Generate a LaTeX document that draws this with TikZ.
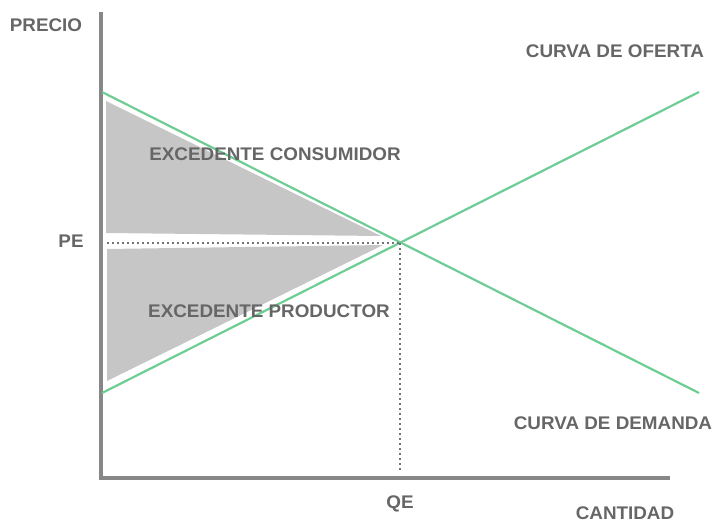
\documentclass[tikz,border=0pt]{standalone}
\usepackage{fontspec}
\setmainfont{Liberation Sans}[FakeStretch=1.03]
\definecolor{curve}{RGB}{110,205,148}
\definecolor{axisgray}{RGB}{135,135,135}
\definecolor{areagray}{RGB}{198,198,198}
\definecolor{labelgray}{RGB}{102,102,102}
\definecolor{dotgray}{RGB}{115,115,115}
\begin{document}
\begin{tikzpicture}[x=1pt,y=-1pt,
  lbl/.style={inner sep=0pt,text=labelgray,font=\fontsize{18.3}{20}\selectfont\bfseries},
  curveline/.style={draw=curve,line width=2.2pt},
  axisline/.style={draw=axisgray,line width=4.5pt},
  area/.style={fill=areagray,draw=none},
  guide/.style={draw=dotgray,line width=2.4pt,dash pattern=on 2pt off 3pt}]
\useasboundingbox (0,0) rectangle (718,524);
% axes
\coordinate (ytop) at (101,12);
\coordinate (origin) at (101,478);
\coordinate (xend) at (670,478);
\draw[axisline,line join=miter] (ytop) -- (origin) -- (xend);
% areas
\fill[area] (106,101) -- (381,236) -- (106,233) -- cycle;
\fill[area] (107,249) -- (383,245) -- (107,381) -- cycle;
% curves
\coordinate (d0) at (102,92);
\coordinate (d1) at (699,393);
\coordinate (s0) at (102,393);
\coordinate (s1) at (699,92);
\coordinate (eq) at (400,243);
\draw[curveline] (d0) -- (d1);
\draw[curveline] (s0) -- (s1);
% guides
\coordinate (pe) at (107,243);
\coordinate (qe) at (400,470);
\draw[guide] (pe) -- (eq);
\draw[guide] (eq) -- (qe);
% labels
\node[lbl] (precio) at (46,25) {PRECIO};
\node[lbl] (oferta) at (615,51) {CURVA DE OFERTA};
\node[lbl] (consumidor) at (275,154) {EXCEDENTE CONSUMIDOR};
\node[lbl] (pelbl) at (71,241) {PE};
\node[lbl] (productor) at (269,311) {EXCEDENTE PRODUCTOR};
\node[lbl] (demanda) at (613,423) {CURVA DE DEMANDA};
\node[lbl] (qelbl) at (400,504) {QE};
\node[lbl] (cantidad) at (625,513) {CANTIDAD};
\end{tikzpicture}
\end{document}
